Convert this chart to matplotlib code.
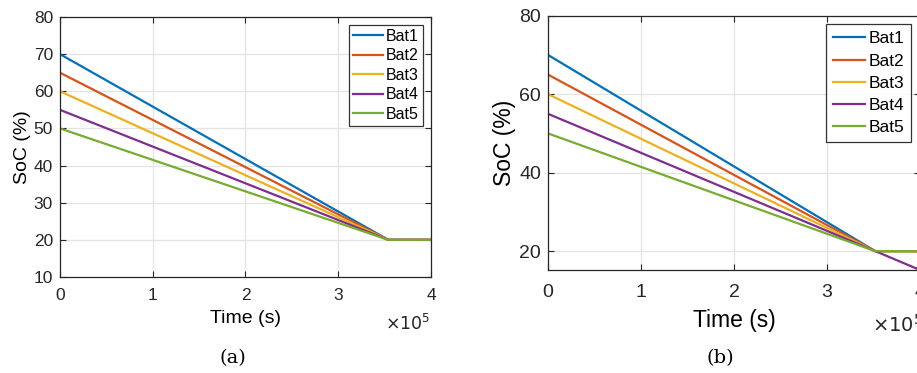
import numpy as np
import matplotlib
matplotlib.use("Agg")
import matplotlib.pyplot as plt

# data (time in seconds)
batteries = ["Bat1", "Bat2", "Bat3", "Bat4", "Bat5"]
colors = ["#0072BD", "#D95319", "#EDB120", "#7E2F8E", "#77AC30"]

time_a = [0, 3.54e5, 4.0e5]
soc_a = [[70, 20, 20],
         [65, 20, 20],
         [60, 20, 20],
         [55, 20, 20],
         [50, 20, 20]]

time_b = [0, 3.52e5, 4.0e5]
soc_b = [[70, 20, 20],
         [65, 20, 20],
         [60, 20, 20],
         [55, 20, 15.2],
         [50, 20, 20]]

xticks = [0, 1e5, 2e5, 3e5, 4e5]
xtick_labels = ["0", "1", "2", "3", "4"]

plt.rcParams['font.family'] = ['Liberation Sans', 'DejaVu Sans']
dark = "#262626"

fig = plt.figure(figsize=(9.17, 3.73), dpi=100)


def panel(ax, t, socs, ylim, yticks, tick_fs, label_fs, leg_fs, leg_sp, leg_pad, xpad, lpad):
    for name, c, s in zip(batteries, colors, socs):
        ax.plot(t, s, color=c, lw=1.6, label=name)
    ax.set_xlim(0, 4e5)
    ax.set_ylim(*ylim)
    ax.set_xticks(xticks)
    ax.set_xticklabels(xtick_labels)
    ax.set_yticks(yticks)
    ax.grid(True, color="#e3e3e3", lw=0.9)
    ax.set_axisbelow(True)
    ax.tick_params(direction="in", top=True, right=True, colors=dark,
                   labelsize=tick_fs, length=4, width=0.8, pad=5)
    ax.tick_params(axis="x", pad=xpad)
    for sp in ax.spines.values():
        sp.set_color(dark)
        sp.set_linewidth(0.9)
    ax.set_xlabel("Time (s)", fontsize=label_fs, color="black", labelpad=lpad)
    ax.set_ylabel("SoC (%)", fontsize=label_fs, color="black", labelpad=2)
    leg = ax.legend(loc="upper right", fontsize=leg_fs, frameon=True, fancybox=False,
                    edgecolor="black", handlelength=1.85, handletextpad=0.2,
                    borderpad=leg_pad, labelspacing=leg_sp, borderaxespad=0.5)
    leg.get_frame().set_linewidth(0.9)
    return ax


ax1 = fig.add_axes([0.0654, 0.2574, 0.4046, 0.697])
panel(ax1, time_a, soc_a, (10, 80), range(10, 81, 10), 12.5, 14, 11.5, 0.28, 0.25, 8, 5)
fig.text(0.4695, 0.135, r"$\times10^5$", fontsize=12.5, ha="right", va="center", color=dark)
fig.text(0.254, 0.04, "(a)", fontsize=14, ha="center", va="center", family="DejaVu Serif")

ax2 = fig.add_axes([0.5976, 0.2761, 0.4057, 0.6818])
panel(ax2, time_b, soc_b, (15.2, 80), [20, 40, 60, 80], 14, 16.5, 12.5, 0.4, 0.4, 10, 6)
fig.text(0.951, 0.128, r"$\times10^5$", fontsize=14, ha="left", va="center", color=dark)
fig.text(0.786, 0.04, "(b)", fontsize=14, ha="center", va="center", family="DejaVu Serif")

fig.savefig("out.png", dpi=100)
